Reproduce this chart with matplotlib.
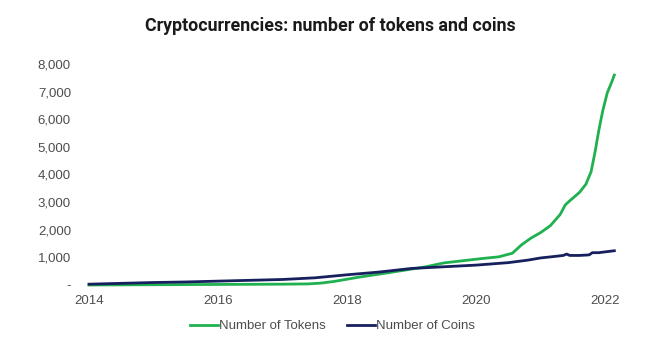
#!/usr/bin/env python3
import matplotlib
matplotlib.use('Agg')
import matplotlib.pyplot as plt
from matplotlib.ticker import FuncFormatter


TITLE = 'Cryptocurrencies: number of tokens and coins'

token_years = [2014.0, 2014.5, 2015.0, 2015.5, 2016.0, 2016.5, 2017.0, 2017.4,
               2017.6, 2017.8, 2018.0, 2018.2, 2018.4, 2018.6, 2018.9, 2019.2,
               2019.5, 2019.8, 2020.1, 2020.35, 2020.56, 2020.7, 2020.85, 2021.0,
               2021.15, 2021.3, 2021.38, 2021.45, 2021.6, 2021.7, 2021.78,
               2021.84, 2021.9, 2021.96, 2022.03, 2022.1, 2022.14]
tokens = [0, 5, 10, 15, 20, 25, 30, 40, 70, 130, 210, 290, 360, 430, 540, 650,
          800, 880, 960, 1020, 1150, 1450, 1700, 1900, 2150, 2550, 2900, 3050,
          3350, 3650, 4100, 4800, 5600, 6300, 6950, 7350, 7600]

coin_years = [2014.0, 2014.5, 2015.0, 2015.5, 2016.0, 2016.5, 2017.0, 2017.5,
              2018.0, 2018.5, 2019.0, 2019.5, 2020.0, 2020.5, 2020.8, 2021.0,
              2021.2, 2021.35, 2021.4, 2021.45, 2021.6, 2021.75, 2021.8, 2021.9,
              2022.0, 2022.14]
coins = [30, 60, 90, 110, 140, 170, 200, 260, 370, 470, 600, 660, 720, 810,
         900, 980, 1030, 1070, 1120, 1070, 1070, 1090, 1170, 1170, 1200, 1240]

x_ticks = [2014, 2016, 2018, 2020, 2022]
y_ticks = [0, 1000, 2000, 3000, 4000, 5000, 6000, 7000, 8000]

GREEN = '#1fb14f'
NAVY = '#17205e'


def fmt(v, pos):
    return '-' if v == 0 else '{:,.0f}'.format(v)


def main():
    plt.rcParams['font.family'] = ['Liberation Sans', 'DejaVu Sans']
    fig = plt.figure(figsize=(6.61, 3.40), dpi=100)
    ax = fig.add_axes([0.12, 1 - 285 / 340, 0.825, (285 - 64) / 340])

    ax.plot(token_years, tokens, color=GREEN, lw=2.0, label='Number of Tokens', clip_on=False)
    ax.plot(coin_years, coins, color=NAVY, lw=2.0, label='Number of Coins', clip_on=False)

    ax.set_xlim(2013.85, 2022.3)
    ax.set_ylim(0, 8000)
    ax.set_xticks(x_ticks)
    ax.set_yticks(y_ticks)
    ax.yaxis.set_major_formatter(FuncFormatter(fmt))
    ax.tick_params(length=0, labelsize=9.5, labelcolor='#4d4d4d')
    ax.tick_params(axis='x', pad=7)
    ax.tick_params(axis='y', pad=6)
    for s in ax.spines.values():
        s.set_visible(False)

    fig.text(0.5, 1 - 26 / 340, TITLE, ha='center', va='center',
             fontsize=12.8, fontweight='bold', family=['Roboto', 'DejaVu Sans'],
             color='#1a1a1a')

    fig.legend(loc='center', bbox_to_anchor=(0.503, 1 - 326 / 340), ncol=2,
               frameon=False, fontsize=9.5, handlelength=2.1, handletextpad=0.1,
               columnspacing=1.6, labelcolor='#4d4d4d')

    fig.savefig('out.png', dpi=100)


if __name__ == '__main__':
    main()
